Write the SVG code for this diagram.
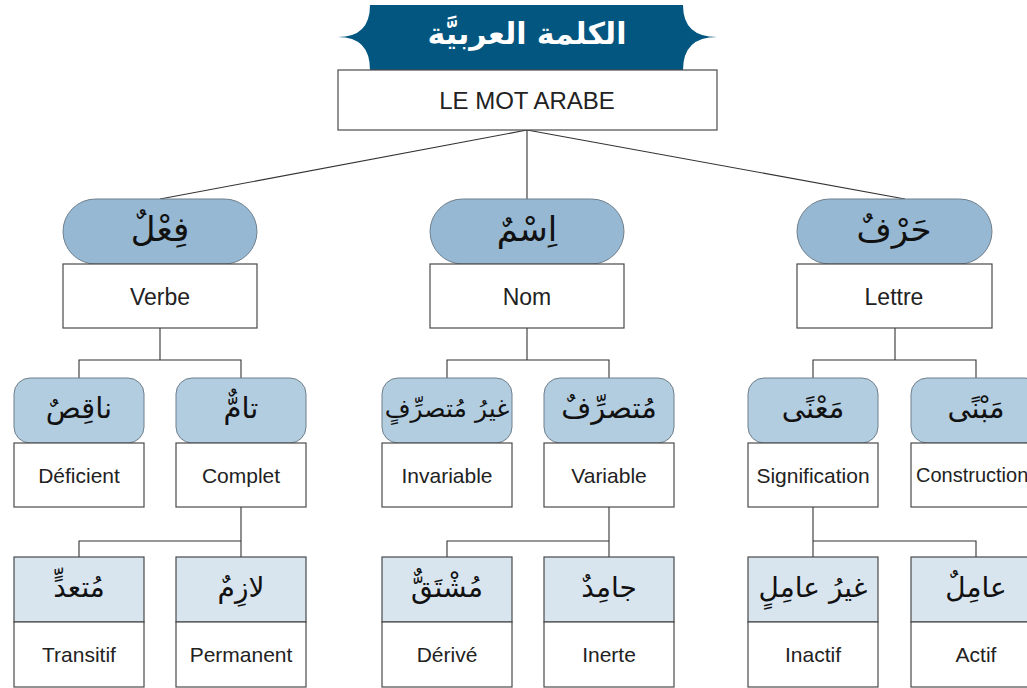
<svg xmlns="http://www.w3.org/2000/svg" width="1027" height="688" viewBox="0 0 1027 688">
<style>
.bg{fill:#ffffff}
.box{fill:#ffffff;stroke:#4a4a4a;stroke-width:1.2}
.p1{fill:#96b8d3;stroke:#6f7f8c;stroke-width:1}
.p2{fill:#b2cce0;stroke:#6f7f8c;stroke-width:1}
.p3{fill:#d8e4ee;stroke:#4a4a4a;stroke-width:1.2}
.ln{fill:none;stroke:#333;stroke-width:1.1}
.fr{font-family:"Liberation Sans",Arial,sans-serif;fill:#222;text-anchor:middle;dominant-baseline:central}
.ar{font-family:"DejaVu Sans",sans-serif;fill:#111;text-anchor:middle;dominant-baseline:central;direction:rtl}
.f1{font-size:23px}
.f2{font-size:21px}
.a1{font-size:34px}
.a2{font-size:29px}
.a3{font-size:28px}
</style>
<rect class="bg" x="0" y="0" width="1027" height="688"/>
<g id="connectors">
<path class="ln" d="M527,130 L160,199 M527,130 L527,199 M527,130 L905,199"/>
<path class="ln" d="M160,328 V360 M79,378 V360 H241 V378"/>
<path class="ln" d="M527,328 V360 M447,378 V360 H609 V378"/>
<path class="ln" d="M895,328 V360 M813,378 V360 H976 V378"/>
<path class="ln" d="M241,507 V541 M79,557 V541 H241 V557"/>
<path class="ln" d="M609,507 V541 M447,557 V541 H609 V557"/>
<path class="ln" d="M813,507 V541 H976 V557 M813,541 V557"/>
</g>
<g id="title">
<path fill="#02567f" d="M370,5 H683 Q683,37 717,37 Q683,37 683,70 H370 Q370,37 338,37 Q370,37 370,5 Z"/>
<text x="527" y="33" font-family="'DejaVu Sans',sans-serif" font-weight="bold" font-size="30" fill="#ffffff" text-anchor="middle" dominant-baseline="central" direction="rtl">الكلمة العربيَّة</text>
</g>
<g id="root">
<rect class="box" x="338" y="70" width="379" height="60"/>
<text class="fr" x="527" y="100" style="font-size:24px">LE MOT ARABE</text>
</g>
<g id="verbe">
<rect class="p1" x="63" y="199" width="194" height="65" rx="32.5"/>
<text class="ar a1" x="160" y="229">فِعْلٌ</text>
<rect class="box" x="63" y="264" width="194" height="64"/>
<text class="fr f1" x="160" y="297">Verbe</text>
</g>
<g id="nom">
<rect class="p1" x="430" y="199" width="194" height="65" rx="32.5"/>
<text class="ar a1" x="527" y="229">اِسْمٌ</text>
<rect class="box" x="430" y="264" width="194" height="64"/>
<text class="fr f1" x="527" y="297">Nom</text>
</g>
<g id="lettre">
<rect class="p1" x="797" y="199" width="195" height="65" rx="32.5"/>
<text class="ar a1" x="894" y="229">حَرْفٌ</text>
<rect class="box" x="797" y="264" width="195" height="64"/>
<text class="fr f1" x="894" y="297">Lettre</text>
</g>
<g id="deficient">
<rect class="p2" x="14" y="378" width="130" height="65" rx="16"/>
<text class="ar a2" x="79" y="408">ناقِصٌ</text>
<rect class="box" x="14" y="443" width="130" height="64"/>
<text class="fr f2" x="79" y="475">Déficient</text>
</g>
<g id="complet">
<rect class="p2" x="176" y="378" width="130" height="65" rx="16"/>
<text class="ar a2" x="241" y="408">تامٌّ</text>
<rect class="box" x="176" y="443" width="130" height="64"/>
<text class="fr f2" x="241" y="475">Complet</text>
</g>
<g id="invariable">
<rect class="p2" x="382" y="378" width="130" height="65" rx="16"/>
<text class="ar" x="447" y="408" style="font-size:25px">غيرُ مُتصرِّفٍ</text>
<rect class="box" x="382" y="443" width="130" height="64"/>
<text class="fr f2" x="447" y="475">Invariable</text>
</g>
<g id="variable">
<rect class="p2" x="544" y="378" width="130" height="65" rx="16"/>
<text class="ar a2" x="609" y="408">مُتصرِّفٌ</text>
<rect class="box" x="544" y="443" width="130" height="64"/>
<text class="fr f2" x="609" y="475">Variable</text>
</g>
<g id="signification">
<rect class="p2" x="748" y="378" width="130" height="65" rx="16"/>
<text class="ar a2" x="813" y="408">مَعْنًى</text>
<rect class="box" x="748" y="443" width="130" height="64"/>
<text class="fr f2" x="813" y="475">Signification</text>
</g>
<g id="construction">
<rect class="p2" x="911" y="378" width="130" height="65" rx="16"/>
<text class="ar a2" x="976" y="408">مَبْنًى</text>
<rect class="box" x="911" y="443" width="130" height="64"/>
<text class="fr" x="916" y="475" style="font-size:20px;text-anchor:start">Construction</text>
</g>
<g id="transitif">
<rect class="p3" x="14" y="557" width="130" height="65"/>
<text class="ar a3" x="79" y="587">مُتعدٍّ</text>
<rect class="box" x="14" y="622" width="130" height="65"/>
<text class="fr f2" x="79" y="654">Transitif</text>
</g>
<g id="permanent">
<rect class="p3" x="176" y="557" width="130" height="65"/>
<text class="ar a3" x="241" y="587">لازِمٌ</text>
<rect class="box" x="176" y="622" width="130" height="65"/>
<text class="fr f2" x="241" y="654">Permanent</text>
</g>
<g id="derive">
<rect class="p3" x="382" y="557" width="130" height="65"/>
<text class="ar a3" x="447" y="587">مُشْتَقٌّ</text>
<rect class="box" x="382" y="622" width="130" height="65"/>
<text class="fr f2" x="447" y="654">Dérivé</text>
</g>
<g id="inerte">
<rect class="p3" x="544" y="557" width="130" height="65"/>
<text class="ar a3" x="609" y="587">جامِدٌ</text>
<rect class="box" x="544" y="622" width="130" height="65"/>
<text class="fr f2" x="609" y="654">Inerte</text>
</g>
<g id="inactif">
<rect class="p3" x="748" y="557" width="130" height="65"/>
<text class="ar a3" x="813" y="587">غيرُ عامِلٍ</text>
<rect class="box" x="748" y="622" width="130" height="65"/>
<text class="fr f2" x="813" y="654">Inactif</text>
</g>
<g id="actif">
<rect class="p3" x="911" y="557" width="130" height="65"/>
<text class="ar a3" x="976" y="587">عامِلٌ</text>
<rect class="box" x="911" y="622" width="130" height="65"/>
<text class="fr f2" x="976" y="654">Actif</text>
</g>
</svg>
